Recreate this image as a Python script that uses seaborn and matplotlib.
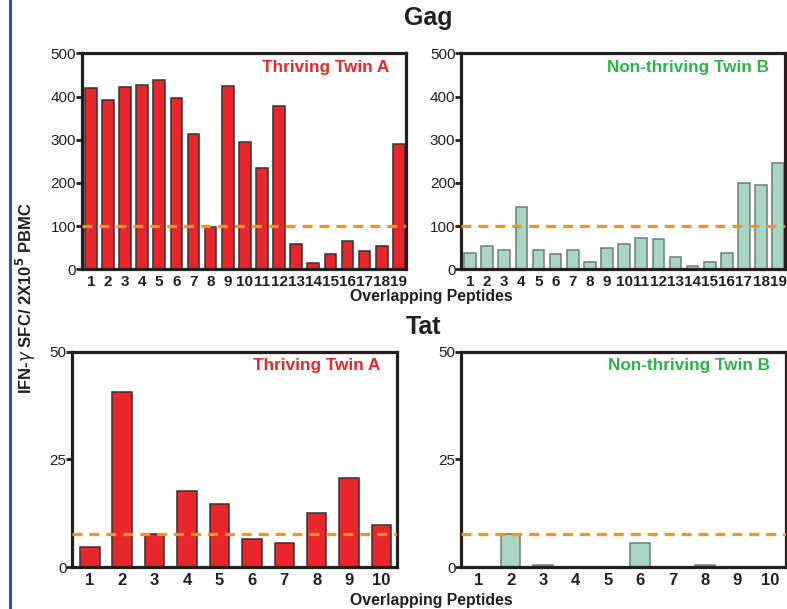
import matplotlib
matplotlib.use("Agg")
import matplotlib.pyplot as plt
import seaborn as sns
import pandas as pd
from matplotlib.lines import Line2D

# ---------------- data ----------------
gag_peptides = [str(i) for i in range(1, 20)]
gag_twin_a = [419, 392, 421, 427, 439, 396, 314, 99, 424, 294, 234, 377, 59, 14, 35, 65, 42, 54, 289]
gag_twin_b = [37, 54, 45, 144, 45, 35, 45, 16, 49, 59, 72, 69, 29, 7, 16, 37, 199, 194, 247]
tat_peptides = [str(i) for i in range(1, 11)]
tat_twin_a = [4.6, 40.7, 7.7, 17.7, 14.7, 6.6, 5.6, 12.7, 20.6, 9.7]
tat_twin_b = [0, 7.7, 0.6, 0, 0, 5.6, 0, 0.6, 0, 0]
gag_threshold = 100
tat_threshold = 7.7
gag_yticks = [0, 100, 200, 300, 400, 500]
tat_yticks = [0, 25, 50]

sns.set_theme(style="white")
plt.rcParams['font.family'] = ['Liberation Sans', 'DejaVu Sans']

RED = '#E8262B'
GREEN_FILL = '#A9D6C0'
GREEN_TXT = '#2DB34A'
ORANGE = '#F7941D'
DARK = '#231F20'

W, H = 787, 609
fig = plt.figure(figsize=(W / 100, H / 100), dpi=100)
fig.patch.set_facecolor('white')


def ax_px(left, right, top, bottom):
    return fig.add_axes([left / W, (H - bottom) / H, (right - left) / W, (bottom - top) / H])


def panel(ax, cats, vals, fill, edge, width, thr, yticks, label, label_color, xlim, xfs):
    df = pd.DataFrame({'pep': cats, 'val': vals})
    sns.barplot(data=df, x='pep', y='val', order=cats, color=fill, edgecolor=edge,
                linewidth=1.1, width=width, saturation=1, ax=ax)
    ax.axhline(thr, color=ORANGE, lw=2.3, dashes=(3.1, 2.2), zorder=5)
    ax.set_ylim(yticks[0], yticks[-1])
    ax.set_xlim(*xlim)
    ax.set_yticks(yticks)
    ax.set_yticklabels([str(t) for t in yticks], fontsize=11, color=DARK)
    ax.set_xticks(range(len(cats)))
    ax.set_xticklabels(cats, fontsize=xfs, fontweight='bold', color=DARK)
    ax.set_xlabel('')
    ax.set_ylabel('')
    for s in ax.spines.values():
        s.set_visible(True)
        s.set_linewidth(2.3)
        s.set_color(DARK)
    ax.tick_params(axis='y', direction='out', length=4, width=2, color=DARK, pad=0, left=True)
    ax.tick_params(axis='x', direction='out', length=0, pad=4, bottom=False)
    ax.text(0.95, 0.935, label, transform=ax.transAxes, ha='right', va='center',
            fontsize=12.3, fontweight='bold', color=label_color)


ax1 = ax_px(81.7, 405.7, 53.3, 269.3)
ax2 = ax_px(461, 785, 53.3, 269.3)
ax3 = ax_px(72.3, 396.7, 351.7, 567.3)
ax4 = ax_px(461, 786, 351.7, 567.3)

panel(ax1, gag_peptides, gag_twin_a, RED, '#333333', 0.68, gag_threshold, gag_yticks,
      'Thriving Twin A', RED, (-0.53, 18.4), 11)
panel(ax2, gag_peptides, gag_twin_b, GREEN_FILL, '#6F7D76', 0.68, gag_threshold, gag_yticks,
      'Non-thriving Twin B', GREEN_TXT, (-0.53, 18.4), 11)
panel(ax3, tat_peptides, tat_twin_a, RED, '#333333', 0.6, tat_threshold, tat_yticks,
      'Thriving Twin A', RED, (-0.54, 9.47), 12)
panel(ax4, tat_peptides, tat_twin_b, GREEN_FILL, '#6F7D76', 0.6, tat_threshold, tat_yticks,
      'Non-thriving Twin B', GREEN_TXT, (-0.53, 9.5), 12)

# titles / shared labels
fig.text(428 / W, 1 - 18 / H, 'Gag', ha='center', va='center', fontsize=18, fontweight='bold', color=DARK)
fig.text(423 / W, 1 - 327 / H, 'Tat', ha='center', va='center', fontsize=18, fontweight='bold', color=DARK)
fig.text(431 / W, 1 - 297 / H, 'Overlapping Peptides', ha='center', va='center',
         fontsize=11.4, fontweight='bold', color=DARK)
fig.text(431 / W, 1 - 600 / H, 'Overlapping Peptides', ha='center', va='center',
         fontsize=11.4, fontweight='bold', color=DARK)
fig.text(26 / W, 1 - 298 / H, r'IFN-$\gamma$ SFC/ 2X10$^{\mathbf{5}}$ PBMC', ha='center', va='center',
         rotation=90, fontsize=12, fontweight='bold', color=DARK)

# blue page border
fig.add_artist(Line2D([10 / W, 10 / W], [0, 1], color='#2E55A5', lw=2.2))

fig.savefig('out.png', dpi=100, facecolor='white')
